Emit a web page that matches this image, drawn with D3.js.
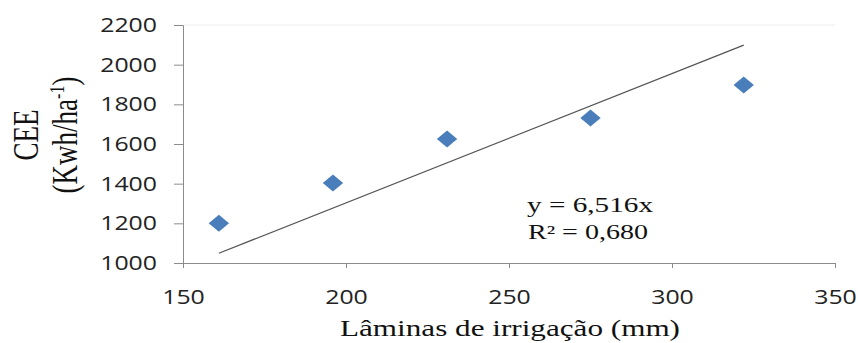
<!DOCTYPE html>
<html>
<head>
<meta charset="utf-8">
<script src="https://cdn.jsdelivr.net/npm/d3@7"></script>
<style>
  body { margin: 0; background: #fff; }
</style>
</head>
<body>
<svg id="chart" width="858" height="343"></svg>
<script>
var width = 858
var height = 343
var margin = { top: 25, right: 23, bottom: 80, left: 183 }

// dados
var laminas = [161, 196, 231, 275, 322]
var cee = [1200, 1403, 1625, 1731, 1897]
var xTicks = [150, 200, 250, 300, 350]
var yTicks = [1000, 1200, 1400, 1600, 1800, 2000, 2200]
var slope = 6.516
var trendRange = [161, 322]

var svg = d3.select("#chart")

var xScale = d3.scaleLinear()
    .domain([150, 350])
    .range([margin.left, width - margin.right])

var yScale = d3.scaleLinear()
    .domain([1000, 2200])
    .range([height - margin.bottom, margin.top])

// linha fraca no topo
svg.append("line")
    .attr("x1", xScale(150)).attr("x2", xScale(350))
    .attr("y1", yScale(2200)).attr("y2", yScale(2200))
    .attr("stroke", "#eeeeee")

var xAxis = d3.axisBottom(xScale).tickValues(xTicks).tickFormat(d3.format("d")).tickSize(5).tickPadding(22)
var yAxis = d3.axisLeft(yScale).tickValues(yTicks).tickFormat(d3.format("d")).tickSize(9).tickPadding(17)

svg.append("g")
    .attr("class", "xAxis")
    .attr("transform", "translate(0," + yScale(1000) + ")")
    .call(xAxis)
svg.append("g")
    .attr("class", "yAxis")
    .attr("transform", "translate(" + xScale(150) + ",0)")
    .call(yAxis)

svg.selectAll(".domain, .tick line").attr("stroke", "#8c8c8c")
svg.selectAll(".tick text")
    .attr("font-family", "'Open Sans', sans-serif")
    .attr("font-size", 20)
    .attr("fill", "#222")
    .attr("textLength", function () { return this.textContent.length * 14.2 })
    .attr("lengthAdjust", "spacingAndGlyphs")

// linha de tendência
svg.append("line")
    .attr("x1", xScale(trendRange[0])).attr("y1", yScale(slope * trendRange[0]))
    .attr("x2", xScale(trendRange[1])).attr("y2", yScale(slope * trendRange[1]))
    .attr("stroke", "#555")
    .attr("stroke-width", 1.3)

// pontos
var pts = laminas.map(function (d, i) { return [d, cee[i]] })
svg.append("g")
    .selectAll("path")
    .data(pts)
    .enter()
    .append("path")
    .attr("d", d3.symbol(d3.symbolSquare, 144))
    .attr("transform", function (d) {
        return "translate(" + xScale(d[0]) + "," + yScale(d[1]) + ") scale(1.2,1) rotate(45)"
    })
    .attr("fill", "#4a7ebb")

// equação
var serif = "'Liberation Serif', 'Times New Roman', serif"
svg.append("text")
    .attr("x", 527).attr("y", 212)
    .attr("font-family", serif).attr("font-size", 20).attr("fill", "#111")
    .attr("textLength", 126).attr("lengthAdjust", "spacingAndGlyphs")
    .text("y = 6,516x")
svg.append("text")
    .attr("x", 528).attr("y", 239)
    .attr("font-family", serif).attr("font-size", 20).attr("fill", "#111")
    .attr("textLength", 120).attr("lengthAdjust", "spacingAndGlyphs")
    .text("R² = 0,680")

// título eixo x
svg.append("text")
    .attr("x", 340)
    .attr("y", 336)
    .attr("font-family", serif)
    .attr("font-size", 24)
    .attr("fill", "#111")
    .attr("textLength", 340).attr("lengthAdjust", "spacingAndGlyphs")
    .text("Lâminas de irrigação (mm)")

// título eixo y
var yt = svg.append("text")
    .attr("transform", "translate(38,135) scale(1.3,1) rotate(-90)")
    .attr("text-anchor", "middle")
    .attr("font-family", serif)
    .attr("font-size", 27)
    .attr("fill", "#111")
yt.append("tspan").attr("x", 0).attr("y", 0).text("CEE")
var l2 = yt.append("tspan").attr("x", 0).attr("y", 30)
l2.append("tspan").text("(Kwh/ha")
l2.append("tspan").attr("dy", -10).attr("font-size", 16).text("-1")
l2.append("tspan").attr("dy", 10).text(")")
</script>
</body>
</html>
